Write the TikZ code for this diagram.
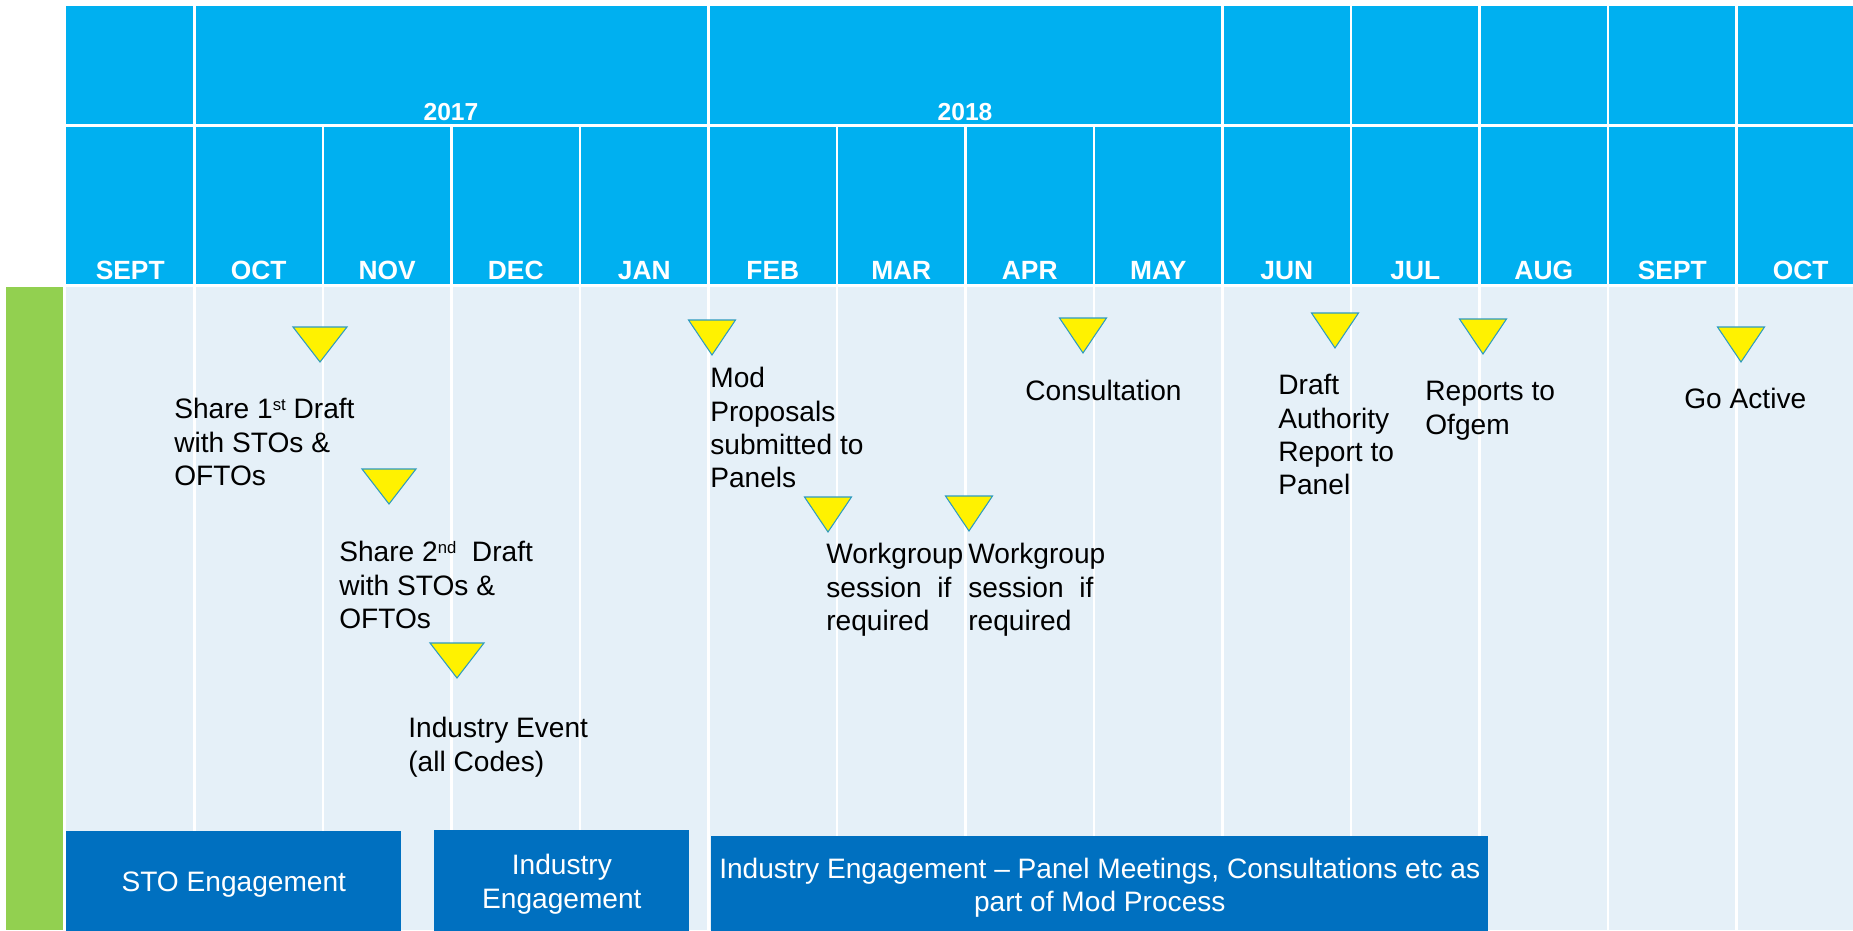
\documentclass[tikz,border=0pt]{standalone}
\usepackage{fontspec}
\setmainfont{Liberation Sans}
\definecolor{headblue}{HTML}{00B0F0}
\definecolor{bodyblue}{HTML}{E5F0F8}
\definecolor{phaseblue}{HTML}{0070C0}
\definecolor{sidegreen}{HTML}{92D050}
\definecolor{markedge}{HTML}{2F9BBF}
\newcommand\ordsup[1]{\raisebox{4.6pt}{\fontsize{9.5}{9.5}\selectfont #1}}
\tikzstyle{gridline} = [draw=white, line width=1.3pt]
\tikzstyle{month} = [text=white, font=\fontsize{15}{18}\selectfont\bfseries,
   anchor=base, inner sep=0pt]
\tikzstyle{year} = [month, font=\fontsize{14}{17}\selectfont\bfseries]
\tikzstyle{event} = [anchor=north west, align=left, inner sep=0pt,
   font=\fontsize{16}{19}\selectfont]
\tikzstyle{marker} = [fill=yellow, draw=markedge, line width=0.6pt]
\tikzstyle{phase} = [rectangle, fill=phaseblue, text=white, anchor=north west,
   align=center, font=\fontsize{16}{19}\selectfont, minimum height=2.15cm, inner sep=0pt]

\begin{document}
\begin{tikzpicture}[x=0.02cm, y=-0.02cm]
\fill[white] (0,0) rectangle (1853,930);
\clip (0,0) rectangle (1853,930);
% Header and body
\fill[headblue] (66,6) rectangle (1853,284);
\fill[bodyblue] (66,287) rectangle (1853,930);
\fill[sidegreen] (6,287) rectangle (63,930);
\draw[gridline] (66,125.5) -- (1853,125.5);
\foreach \i in {1,5,9,10,11,12,13}
  \draw[gridline] ({66+128.5*\i},6) -- ({66+128.5*\i},125.5);
\foreach \i in {1,...,13} {
  \draw[gridline] ({66+128.5*\i},125.5) -- ({66+128.5*\i},284);
  \draw[gridline] ({66+128.5*\i},287) -- ({66+128.5*\i},930);
}
% Place labels
\node[year] (y2017) at (451,120) {2017};
\node[year] (y2018) at (965,120) {2018};
\foreach \m [count=\i from 0] in {SEPT,OCT,NOV,DEC,JAN,FEB,MAR,APR,MAY,JUN,JUL,AUG,SEPT,OCT}
  \node[month] (month\i) at ({66+128.5*(\i+0.5)},279) {\m};
% Milestones
\foreach \x/\y/\w in {320/327/54, 389/469/54, 457/643/54, 712/320/47, 828/497/47,
    969/496/47, 1083/318/47, 1335/313/47, 1483/319/47, 1741/327/47}
  \draw[marker] ({\x-\w/2},\y) -- ++(\w,0) -- ++({-\w/2},35) -- cycle;
\node[event] (draft1) at (174,398) {Share 1\ordsup{st} Draft\\with STOs \&\\OFTOs};
\node[event] (draft2) at (339,541) {Share 2\ordsup{nd}\ \ Draft\\with STOs \&\\OFTOs};
\node[event] (indevent) at (408,717) {Industry Event\\(all Codes)};
\node[event] (modprop) at (710,367) {Mod\\Proposals\\submitted to\\Panels};
\node[event] (wg1) at (826,543) {Workgroup\\session\ \ if\\required};
\node[event] (wg2) at (968,543) {Workgroup\\session\ \ if\\required};
\node[event] (consult) at (1025,380) {Consultation};
\node[event] (authrep) at (1278,374) {Draft\\Authority\\Report to\\Panel};
\node[event] (ofgem) at (1425,381) {Reports to\\Ofgem};
\node[event] (active) at (1684,388) {Go Active};
% Phases
\node[phase, minimum width=6.7cm] (sto) at (66,831) {STO Engagement};
\node[phase, minimum width=5.1cm] (indeng) at (434,830) {Industry\\Engagement};
\node[phase, minimum width=15.54cm, minimum height=2.05cm] (modproc) at (711,836)
  {Industry Engagement -- Panel Meetings, Consultations etc as\\part of Mod Process};
\end{tikzpicture}
\end{document}
